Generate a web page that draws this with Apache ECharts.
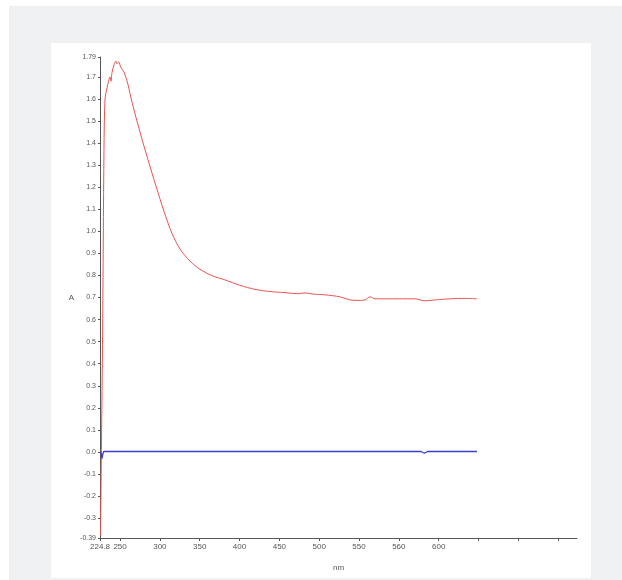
<!DOCTYPE html>
<html>
<head>
<meta charset="utf-8">
<script src="https://cdn.jsdelivr.net/npm/echarts@6/dist/echarts.min.js"></script>
<style>
  html, body { margin: 0; padding: 0; background: #ffffff; width: 622px; height: 580px; overflow: hidden; }
  #outer { position: absolute; left: 9px; top: 6px; width: 613px; height: 574px; background: #eff0f2; }
  #panel { position: absolute; left: 51px; top: 43px; width: 540px; height: 535px; background: #ffffff; }
  #chart { position: absolute; left: 0; top: 0; width: 622px; height: 580px; }
</style>
</head>
<body>
<div id="outer"></div>
<div id="panel"></div>
<div id="chart"></div>
<script>
// Wavelength (nm) / absorbance (A)
const redWavelength = [225.5, 226.6, 228.1, 229.8, 231.1, 233.6, 235.5, 237.4, 238.6, 239.9, 242.4, 244.9, 246.1, 248.0, 251.2, 254.9, 260.0, 265.0, 275.0, 285.0, 295.1, 305.2, 315.2, 325.2, 337.8, 350.3, 365.4, 381.7, 400.6, 419.4, 438.2, 457.1, 473.4, 482.2, 491.0, 507.3, 526.1, 538.7, 548.7, 557.5, 563.8, 570.1, 582.6, 601.4, 620.3, 632.8, 645.4, 664.2, 683.0, 698.1];
const redAbsorbance = [-0.38, 0.01, 0.55, 1.37, 1.60, 1.65, 1.68, 1.70, 1.68, 1.72, 1.754, 1.772, 1.759, 1.768, 1.741, 1.722, 1.664, 1.585, 1.45, 1.325, 1.205, 1.09, 0.99, 0.92, 0.865, 0.828, 0.799, 0.78, 0.755, 0.737, 0.727, 0.722, 0.717, 0.721, 0.716, 0.712, 0.703, 0.689, 0.687, 0.689, 0.703, 0.694, 0.694, 0.694, 0.694, 0.685, 0.689, 0.694, 0.696, 0.694];

const blueWavelength = [225.5, 226.5, 227.4, 228.3, 229.5, 240.0, 300.0, 400.0, 500.0, 600.0, 628.0, 632.0, 636.0, 660.0, 698.1];
const blueAbsorbance = [0.0, -0.01, -0.03, -0.01, 0.002, 0.002, 0.002, 0.002, 0.002, 0.002, 0.002, -0.006, 0.002, 0.002, 0.002];

const xTickValues = [224.8, 250, 300, 350, 400, 450, 500, 550, 600, 650, 700, 750, 800];
const xTickLabels = ["224.8", "250", "300", "350", "400", "450", "500", "550", "560", "600", "", "", ""];

const yTickValues = [-0.39, -0.3, -0.2, -0.1, 0.0, 0.1, 0.2, 0.3, 0.4, 0.5, 0.6, 0.7, 0.8, 0.9, 1.0, 1.1, 1.2, 1.3, 1.4, 1.5, 1.6, 1.7, 1.79];
const yTickLabels = ["-0.39", "-0.3", "-0.2", "-0.1", "0.0", "0.1", "0.2", "0.3", "0.4", "0.5", "0.6", "0.7", "0.8", "0.9", "1.0", "1.1", "1.2", "1.3", "1.4", "1.5", "1.6", "1.7", "1.79"];

const redData = redWavelength.map((w, i) => [w, redAbsorbance[i]]);
const blueData = blueWavelength.map((w, i) => [w, blueAbsorbance[i]]);

function labelFor(values, labels, v) {
  for (let i = 0; i < values.length; i++) {
    if (Math.abs(values[i] - v) < 1e-6) return labels[i];
  }
  return '';
}

const font = '"Liberation Sans Narrow", "Liberation Sans", Arial, sans-serif';
const chart = echarts.init(document.getElementById('chart'), null, { renderer: 'canvas' });
chart.setOption({
  backgroundColor: 'transparent',
  animation: false,
  grid: { left: 100, top: 57, width: 477, height: 481, containLabel: false },
  xAxis: {
    type: 'value',
    min: 224.8,
    max: 823.7,
    name: 'nm',
    nameLocation: 'middle',
    nameGap: 26,
    nameTextStyle: { fontFamily: font, fontSize: 8, color: '#555' },
    axisLine: { show: true, onZero: false, lineStyle: { color: '#555', width: 1 } },
    axisTick: { show: true, length: 3, customValues: xTickValues, lineStyle: { color: '#555' } },
    axisLabel: {
      customValues: xTickValues,
      margin: 5,
      fontFamily: font, fontSize: 8, color: '#555',
      formatter: v => labelFor(xTickValues, xTickLabels, v)
    },
    splitLine: { show: false }
  },
  yAxis: {
    type: 'value',
    min: -0.39,
    max: 1.79,
    name: 'A',
    nameLocation: 'middle',
    nameGap: 19,
    nameRotate: 0,
    nameTextStyle: { fontFamily: font, fontSize: 8, color: '#555' },
    axisLine: { show: true, onZero: false, lineStyle: { color: '#555', width: 1 } },
    axisTick: { show: true, length: 2, customValues: yTickValues, lineStyle: { color: '#555' } },
    axisLabel: {
      customValues: yTickValues,
      margin: 4,
      fontFamily: font, fontSize: 7, color: '#555',
      formatter: v => labelFor(yTickValues, yTickLabels, v)
    },
    splitLine: { show: false }
  },
  series: [
    {
      type: 'line',
      data: redData,
      showSymbol: false,
      smooth: 0.3,
      lineStyle: { color: '#e9534f', width: 1 },
      clip: true
    },
    {
      type: 'line',
      data: blueData,
      showSymbol: false,
      lineStyle: { color: '#3b3fd0', width: 1.3 },
      clip: true
    }
  ]
});
</script>
</body>
</html>
